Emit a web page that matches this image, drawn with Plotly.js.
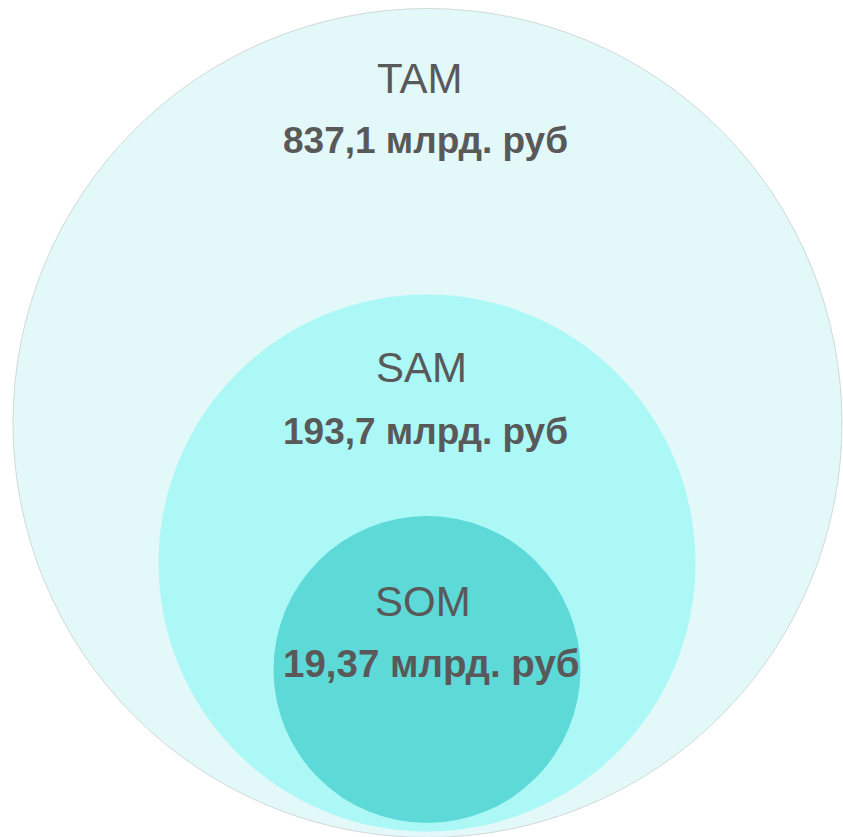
<!DOCTYPE html>
<html>
<head>
<meta charset="utf-8">
<script src="https://cdn.plot.ly/plotly-3.0.1.min.js"></script>
<style>html,body{margin:0;padding:0;background:#fff;}#chart{width:843px;height:837px;}</style>
</head>
<body>
<div id="chart"></div>
<script>
// Data
var labels = ["TAM", "SAM", "SOM"];
var values = ["837,1", "193,7", "19,37"];
var unit = "млрд. руб";

// Geometry (pixel space of the 843x837 canvas)
var centersX = [427.5, 427, 427];
var centersY = [423, 563, 669.5];
var radii = [414.5, 268.5, 153.5];
var fills = ["#E3F8F8", "#ABF8F6", "#5DD9D8"];
var lines = ["#C9CFCF", "rgba(0,0,0,0)", "rgba(0,0,0,0)"];
var labelX = [420, 421, 423];
var labelY = [78, 367, 601];
var valueX = [425, 425, 431];
var valueY = [140, 431, 663];
var valueSize = [37, 37, 38.5];

var shapes = [], annotations = [];
for (var i = 0; i < labels.length; i++) {
  shapes.push({
    type: "circle", xref: "x", yref: "y",
    x0: centersX[i] - radii[i], x1: centersX[i] + radii[i],
    y0: centersY[i] - radii[i], y1: centersY[i] + radii[i],
    fillcolor: fills[i], line: {color: lines[i], width: i === 0 ? 0.8 : 0}, layer: "below"
  });
  annotations.push({
    x: labelX[i], y: labelY[i], xref: "x", yref: "y", text: labels[i], showarrow: false,
    xanchor: "center", yanchor: "middle",
    font: {family: "Liberation Sans, Arial, sans-serif", size: 42, color: "#595959"}
  });
  annotations.push({
    x: valueX[i], y: valueY[i], xref: "x", yref: "y", text: "<b>" + values[i] + " " + unit + "</b>", showarrow: false,
    xanchor: "center", yanchor: "middle",
    font: {family: "Liberation Sans, Arial, sans-serif", size: valueSize[i], color: "#595959"}
  });
}

var layout = {
  width: 843, height: 837,
  margin: {l: 0, r: 0, t: 0, b: 0, pad: 0},
  paper_bgcolor: "#ffffff", plot_bgcolor: "rgba(0,0,0,0)",
  xaxis: {range: [0, 843], visible: false, fixedrange: true},
  yaxis: {range: [837, 0], visible: false, fixedrange: true},
  showlegend: false,
  shapes: shapes,
  annotations: annotations
};

Plotly.newPlot("chart", [{x: [], y: [], type: "scatter", mode: "markers", hoverinfo: "skip"}], layout, {displayModeBar: false, staticPlot: true});
</script>
</body>
</html>
